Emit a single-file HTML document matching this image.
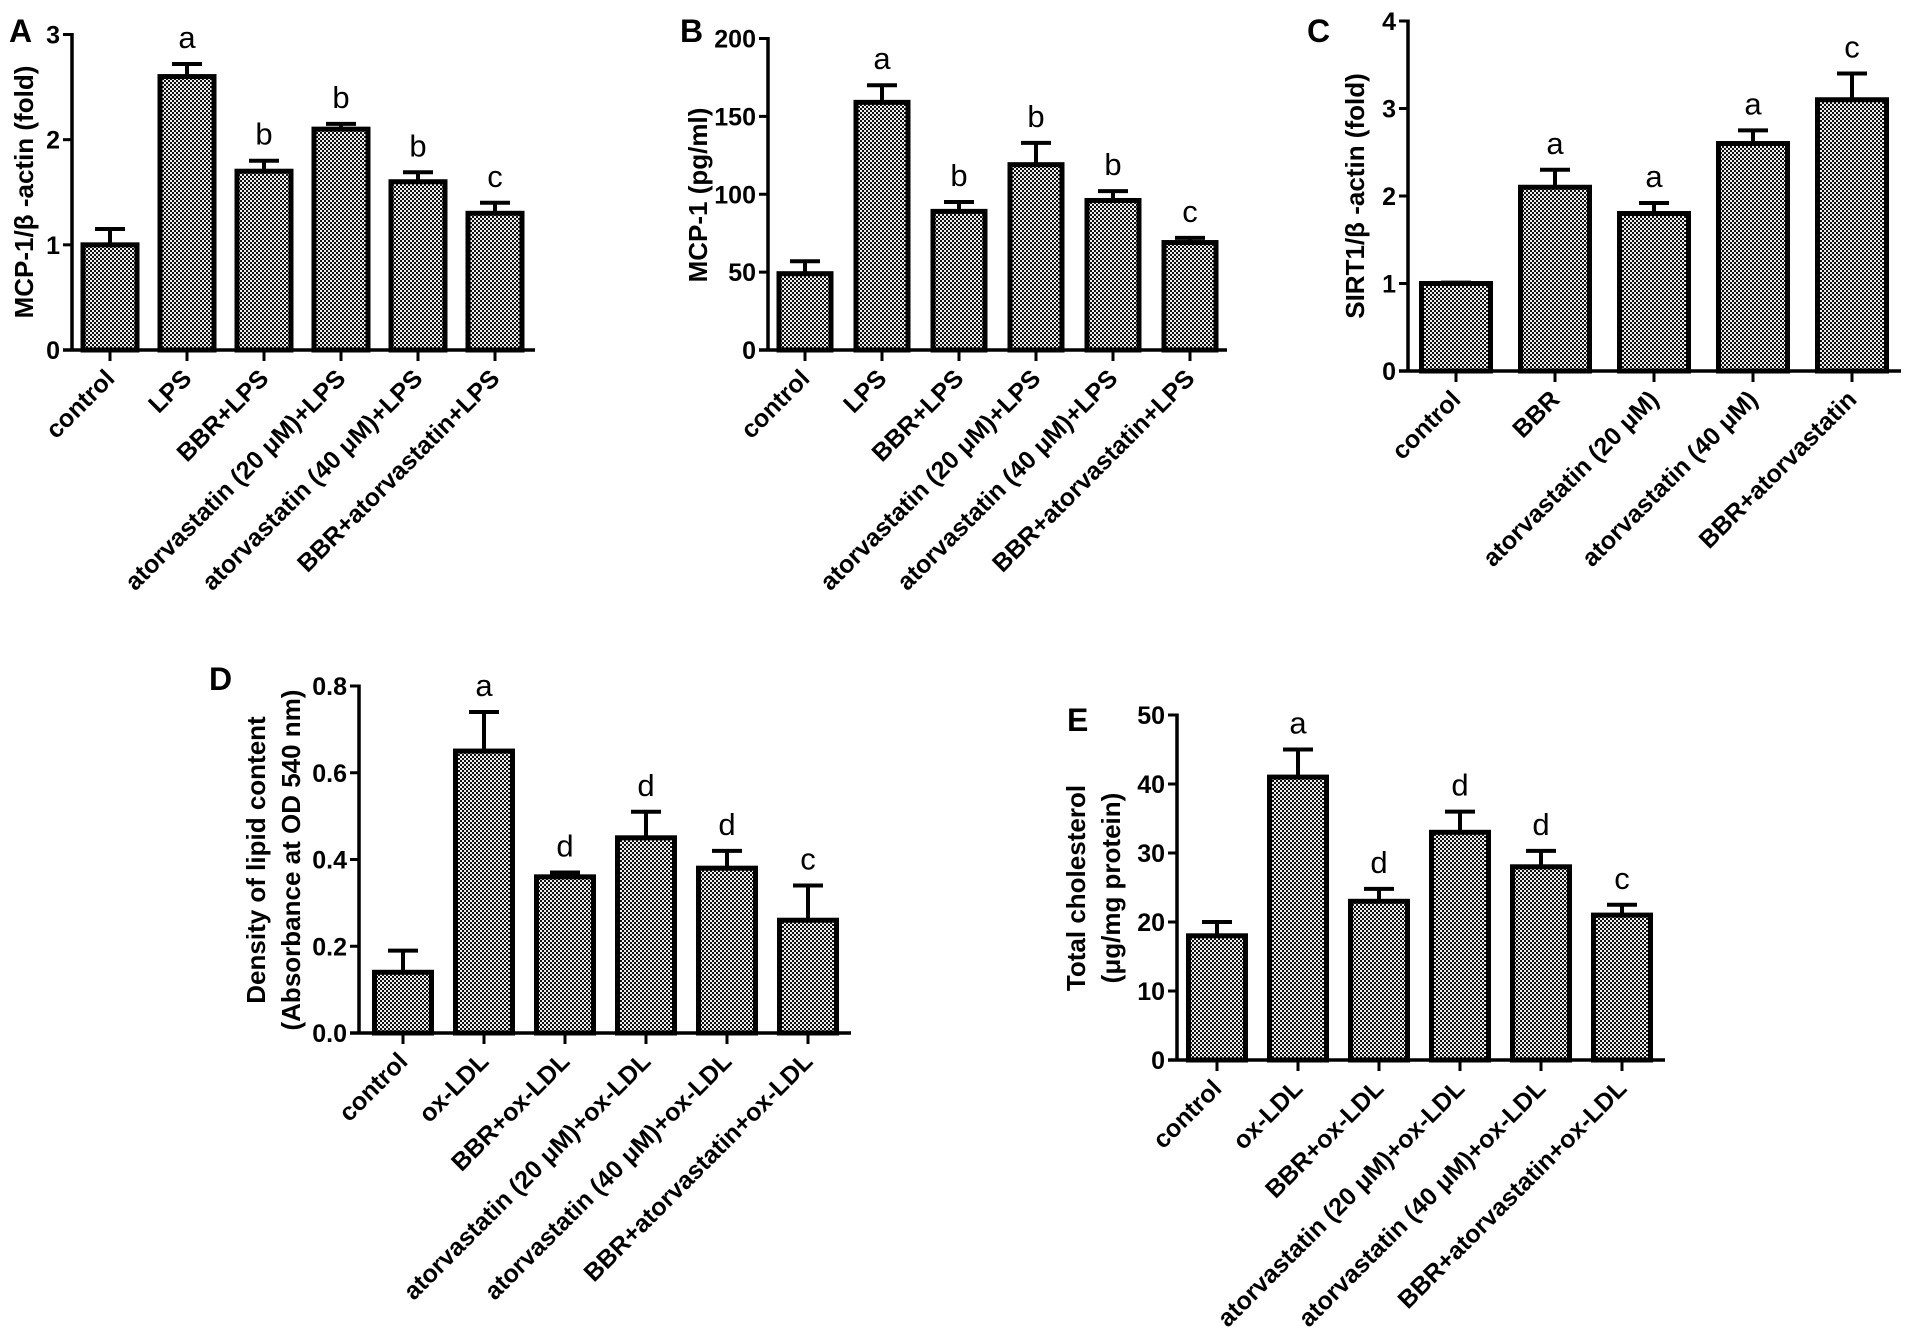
<!DOCTYPE html>
<html><head><meta charset="utf-8"><style>
html,body{margin:0;padding:0;background:#fff}
svg{display:block}
text{font-family:"Liberation Sans",Arial,sans-serif}
.tick{font-size:25px;font-weight:bold}
.xl{font-size:25px;font-weight:bold}
.yt{font-size:26px;font-weight:bold}
.let{font-size:31px}
.pl{font-size:32px;font-weight:bold}
</style></head><body>
<svg id="fig" width="1913" height="1343" viewBox="0 0 1913 1343" xmlns="http://www.w3.org/2000/svg">
<defs>
<pattern id="chk" width="4" height="4" patternUnits="userSpaceOnUse">
<rect width="4" height="4" fill="#eee"/><rect x="0" y="0" width="2" height="2" fill="#111"/><rect x="2" y="2" width="2" height="2" fill="#111"/>
</pattern>
</defs>
</svg>
<script>
// Panel A
const catsA = ["control","LPS","BBR+LPS","atorvastatin (20 μM)+LPS","atorvastatin (40 μM)+LPS","BBR+atorvastatin+LPS"];
const valsA = [1.0,2.6,1.7,2.1,1.6,1.3];
const errsA = [0.15,0.12,0.1,0.05,0.09,0.1];
const letsA = ["","a","b","b","b","c"];
const ticksA = [0,1,2,3];
// Panel B
const catsB = catsA;
const valsB = [49,159,89,119,96,69];
const errsB = [8,11,6,14,6,3];
const letsB = ["","a","b","b","b","c"];
const ticksB = [0,50,100,150,200];
// Panel C
const catsC = ["control","BBR","atorvastatin (20 μM)","atorvastatin (40 μM)","BBR+atorvastatin"];
const valsC = [1.0,2.1,1.8,2.6,3.1];
const errsC = [0.01,0.2,0.12,0.15,0.3];
const letsC = ["","a","a","a","c"];
const ticksC = [0,1,2,3,4];
// Panel D
const catsD = ["control","ox-LDL","BBR+ox-LDL","atorvastatin (20 μM)+ox-LDL","atorvastatin (40 μM)+ox-LDL","BBR+atorvastatin+ox-LDL"];
const valsD = [0.14,0.65,0.36,0.45,0.38,0.26];
const errsD = [0.05,0.09,0.01,0.06,0.04,0.08];
const letsD = ["","a","d","d","d","c"];
const ticksD = ["0.0","0.2","0.4","0.6","0.8"];
// Panel E
const catsE = catsD;
const valsE = [18,41,23,33,28,21];
const errsE = [2,4,1.8,3,2.3,1.5];
const letsE = ["","a","d","d","d","c"];
const ticksE = [0,10,20,30,40,50];

const NS="http://www.w3.org/2000/svg";
const svg=document.getElementById('fig');
function mk(tag,attrs,parent,txt){const e=document.createElementNS(NS,tag);for(const k in attrs)e.setAttribute(k,attrs[k]);if(txt!==undefined)e.textContent=txt;(parent||svg).appendChild(e);return e;}

function panel(cfg,cats,vals,errs,lets,ticks){
  const g=mk('g',{});
  
  
  const tmax=parseFloat(ticks[ticks.length-1]);
  const y=v=>cfg.y0-(v/tmax)*(cfg.y0-cfg.ytop);
  const x=i=>cfg.c0+i*cfg.sp;
  const pl=mk('text',{x:cfg.plx,y:cfg.ply,class:'pl'},g,cfg.id);
  
  
  const ya=mk('line',{x1:cfg.ax,y1:y(tmax)-1.5,x2:cfg.ax,y2:cfg.y0,stroke:'#000','stroke-width':3.5},g);
  
  
  ticks.forEach(t=>{
    const v=parseFloat(t);
    mk('line',{x1:cfg.ax-9,y1:y(v),x2:cfg.ax,y2:y(v),stroke:'#000','stroke-width':3},g);
    const tl=mk('text',{x:cfg.ax-12,y:y(v)+9,class:'tick','text-anchor':'end'},g,String(t));
    
    
  });
  cfg.title.forEach((line,k)=>{
    const tx=cfg.tx[k];
    const t=mk('text',{x:tx,y:cfg.ty,class:'yt','text-anchor':'middle',transform:`rotate(-90 ${tx} ${cfg.ty})`},g,line);
    
    
  });
  vals.forEach((v,i)=>{
    const cx=x(i),w=cfg.bw,top=y(v),et=y(v+errs[i]);
    const eb=mk('line',{x1:cx,y1:top,x2:cx,y2:et,stroke:'#000','stroke-width':4},g);
    
    
    mk('line',{x1:cx-15,y1:et,x2:cx+15,y2:et,stroke:'#000','stroke-width':4},g);
    const r=mk('rect',{x:cx-w/2,y:top,width:w,height:cfg.y0-top,fill:'url(#chk)',stroke:'#000','stroke-width':5},g);
    
    
    if(lets[i]){
      const lt=mk('text',{x:cx,y:et-16,class:'let','text-anchor':'middle'},g,lets[i]);
      
      
    }
    mk('line',{x1:cx,y1:cfg.y0,x2:cx,y2:cfg.y0+11,stroke:'#000','stroke-width':3},g);
    const ax=cx+6,ay=cfg.y0+30;
    const xl=mk('text',{x:ax,y:ay,class:'xl','text-anchor':'end',transform:`rotate(-45 ${ax} ${ay})`},g,cats[i]);
    
    
  });
  const xa=mk('line',{x1:cfg.ax-9,y1:cfg.y0,x2:cfg.xend,y2:cfg.y0,stroke:'#000','stroke-width':3.5},g);
  
  
}

panel({id:'A',ax:72,y0:350,ytop:34.5,c0:110,sp:77,bw:54,xend:535,plx:9,ply:42,title:['MCP-1/β -actin (fold)'],tx:[33],ty:192},catsA,valsA,errsA,letsA,ticksA);
panel({id:'B',ax:768,y0:350,ytop:38.5,c0:805,sp:77,bw:52,xend:1227,plx:680,ply:42,title:['MCP-1 (pg/ml)'],tx:[707],ty:195},catsB,valsB,errsB,letsB,ticksB);
panel({id:'C',ax:1408,y0:371,ytop:21,c0:1456,sp:99,bw:69,xend:1901,plx:1307,ply:42,title:['SIRT1/β -actin (fold)'],tx:[1364],ty:196},catsC,valsC,errsC,letsC,ticksC);
panel({id:'D',ax:359,y0:1033,ytop:686,c0:403,sp:81,bw:57,xend:851,plx:209,ply:690,title:['Density of lipid content','(Absorbance at OD 540 nm)'],tx:[265,300],ty:860},catsD,valsD,errsD,letsD,ticksD);
panel({id:'E',ax:1177,y0:1060,ytop:715,c0:1217,sp:81,bw:57,xend:1665,plx:1067,ply:731,title:['Total cholesterol','(μg/mg protein)'],tx:[1085,1120],ty:888},catsE,valsE,errsE,letsE,ticksE);
</script>
</body></html>
